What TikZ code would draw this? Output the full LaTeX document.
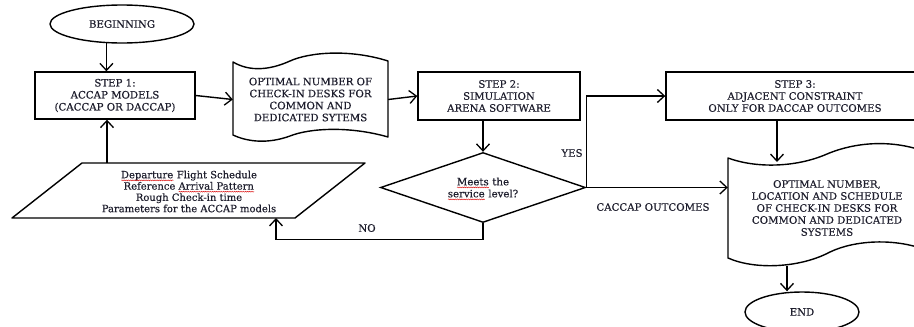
\documentclass[tikz,border=0pt]{standalone}
\usepackage{fontspec}
\setmainfont{DejaVu Serif}[FakeBold=0.4]
\usetikzlibrary{arrows.meta,shapes.geometric,decorations.pathmorphing}
\newsavebox\wavebox
\newcommand\redwave[1]{\sbox\wavebox{#1}\rlap{\usebox\wavebox}\raisebox{-2.8pt}[0pt][0pt]{\tikz[x=1cm,y=1cm]\draw[red!85!black, line width=0.4pt, decorate, decoration={snake, amplitude=0.5pt, segment length=2.2pt}] (0pt,0pt) -- (\wd\wavebox,0pt);}}
\definecolor{ink}{RGB}{30,30,45}
\tikzset{
  line/.style={line width=1.4pt, draw=black},
  arr/.style={line, -{Straight Barb[length=7pt,width=13pt,line width=1.3pt]}},
  txt/.style={font=\fontsize{10.2}{12}\selectfont, text=ink, align=center, inner sep=0pt},
  stepbox/.style={line, rectangle, txt, inner sep=0pt},
  term/.style={line, ellipse, txt},
  lbl/.style={txt}
}
\begin{document}
\begin{tikzpicture}[x=1pt,y=-1pt]
\useasboundingbox (0,0) rectangle (914,327);
\clip (0,0) rectangle (914,327);

% terminals
\node[term, minimum width=144pt, minimum height=38pt] (begin) at (122,24) {BEGINNING};
\node[term, minimum width=114pt, minimum height=40pt] (end) at (802,312) {END};

% process boxes
\node[stepbox, minimum width=160pt, minimum height=47pt] (s1) at (115,95.5) {STEP 1:\\ACCAP MODELS\\(CACCAP OR DACCAP)};
\node[stepbox, minimum width=162pt, minimum height=48pt] (s2) at (499,96) {STEP 2:\\SIMULATION\\ARENA SOFTWARE};
\node[stepbox, minimum width=258pt, minimum height=48pt] (s3) at (795,96) {STEP 3:\\ADJACENT CONSTRAINT\\ONLY FOR DACCAP OUTCOMES};

% document 1 (tape)
\node[txt, minimum width=155pt, minimum height=75pt] (doc1) at (310.5,99.5) {OPTIMAL NUMBER OF\\CHECK-IN DESKS FOR\\COMMON AND\\DEDICATED SYTEMS};
\draw[line, line join=round] (233,62) .. controls (250,72) and (270,70) .. (290,61)
  .. controls (310,52) and (350,49) .. (388,61) -- (388,137)
  .. controls (350,126) and (310,128) .. (290,136)
  .. controls (268,144) and (248,142) .. (233,135) -- cycle;

% document 2 (tape, runs off the right edge)
\node[txt, minimum width=198pt, minimum height=100pt] (doc2) at (827,208) {OPTIMAL NUMBER,\\LOCATION AND SCHEDULE\\OF CHECK-IN DESKS FOR\\COMMON AND DEDICATED\\SYSTEMS};
\draw[line, line join=round] (728,158) .. controls (755,168) and (795,168) .. (827,154)
  .. controls (858,141) and (895,140) .. (926,152) -- (926,250)
  .. controls (895,238) and (855,240) .. (830,252)
  .. controls (800,268) and (755,270) .. (728,258) -- cycle;
\coordinate (d2bot) at (787,266);
\coordinate (d2top) at (777,162);

% parallelogram
\coordinate (pTL) at (82,163);
\coordinate (pTR) at (365,163);
\coordinate (pBR) at (295,218);
\coordinate (pBL) at (12,218);
\draw[line, line join=round] (pTL) -- (pTR) -- (pBR) -- (pBL) -- cycle;
\node[txt, font=\fontsize{10}{11.3}\selectfont] (para) at (189,191.5) {\redwave{Departure} Flight Schedule\\Reference \redwave{Arrival Pattern}\\Rough Check-in time\\Parameters for the ACCAP models};
\coordinate (paraIn) at (107,163);
\coordinate (noEnd) at (276,218);

% decision
\node[line, diamond, txt, minimum width=205pt, minimum height=70pt, aspect=2.93] (dia) at (483,187.5) {\redwave{Meets} the\\\redwave{service} level?};

% connectors
\draw[arr] (begin.231) -- (begin.231 |- s1.north);
\draw[arr] (paraIn) -- (paraIn |- s1.south);
\draw[arr] (s1.east) -- (doc1.west);
\draw[arr] (doc1.east) -- (s2.west);
\draw[arr] (dia.north |- s2.south) -- (dia.north);
\draw[arr] (dia.east) -- (dia.east |- s3.west) -- (s3.west);
\draw[arr] (dia.east) -- (dia.east -| doc2.west);
\draw[arr] (dia.south) -- ++(0,16) -| (noEnd);
\draw[arr] (d2top |- s3.south) -- (d2top);
\draw[arr] (d2bot) -- (d2bot |- end.north);

% labels
\node[lbl] (yes) at (572,153) {YES};
\node[lbl] (no) at (367,228) {NO};
\node[lbl] (cacc) at (653,207) {CACCAP OUTCOMES};
\end{tikzpicture}
\end{document}
